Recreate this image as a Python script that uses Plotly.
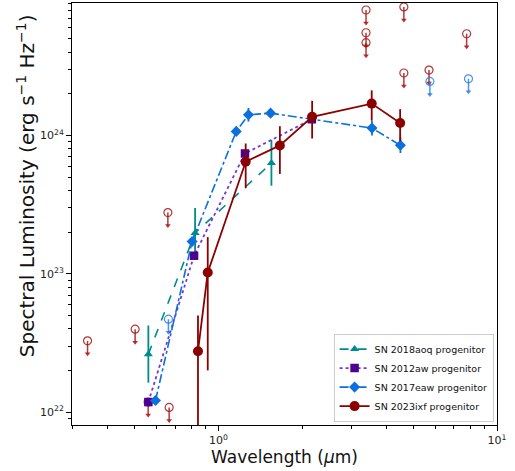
import numpy as np
import plotly.graph_objects as go

# ---- progenitor SED measurements (wavelength in micron, L_nu in erg/s/Hz) ----
aoq_wave = [0.560, 0.824, 1.549]
aoq_lum = [2.62e22, 1.97e23, 6.31e23]
aoq_err_hi = [1.60e22, 1.02e23, 2.99e23]
aoq_err_lo = [0.99e22, 0.67e23, 1.98e23]

aw_wave = [0.560, 0.817, 1.245, 2.164]
aw_lum = [1.18e22, 1.35e23, 7.41e23, 1.31e24]

eaw_wave = [0.594, 0.804, 1.158, 1.281, 1.538, 3.557, 4.50]
eaw_lum = [1.21e22, 1.71e23, 1.07e24, 1.41e24, 1.45e24, 1.13e24, 8.49e23]
eaw_err_hi = [0, 0, 0, 0.17e24, 0, 0.15e24, 1.2e23]
eaw_err_lo = [0, 0, 0, 0.15e24, 0, 0.13e24, 1.02e23]

ixf_wave = [0.844, 0.915, 1.252, 1.661, 2.169, 3.549, 4.49]
ixf_lum = [2.75e22, 1.02e23, 6.45e23, 8.47e23, 1.365e24, 1.70e24, 1.23e24]
ixf_err = [2.24e22, 0.82e23, 2.3e23, 3.2e23, 4.15e23, 4.2e23, 3.2e23]

# upper limits
ixf_lim_wave = [0.3387, 0.502, 0.559, 0.658, 0.665, 3.386, 3.386, 3.386, 4.63, 4.63, 5.70, 7.78]
ixf_lim_lum = [3.27e22, 3.97e22, 1.18e22, 2.77e23, 1.08e22, 8.08e24, 5.53e24, 4.69e24,
               8.5e24, 2.83e24, 2.97e24, 5.44e24]
eaw_lim_wave = [0.661, 5.74, 7.90]
eaw_lim_lum = [4.69e22, 2.46e24, 2.57e24]

x_ticks = [1, 10]
x_tick_text = ["10<sup>0</sup>", "10<sup>1</sup>"]
y_ticks = [1e22, 1e23, 1e24]
y_tick_text = ["10<sup>22</sup>", "10<sup>23</sup>", "10<sup>24</sup>"]

TEAL = "#008b8b"
PURPLE_M = "#4b0092"
PURPLE_L = "#7237d4"
BLUE = "#0b6fde"
RED = "#8b0000"
RED_LIM = "rgba(165,20,20,0.85)"
BLUE_LIM = "rgba(30,120,230,0.8)"

ARROW = 10 ** (-0.094)  # arrow length for upper limits (fixed fraction in log space)

fig = go.Figure()


def add_limits(wave, lum, color):
    lum = np.asarray(lum, dtype=float)
    tip = lum * ARROW
    fig.add_trace(go.Scatter(
        x=wave, y=lum, mode="markers", showlegend=False, hoverinfo="skip",
        marker=dict(symbol="circle-open", size=8, color=color, line=dict(width=1.2, color=color)),
        error_y=dict(type="data", symmetric=False, array=np.zeros_like(lum),
                     arrayminus=lum - tip, color=color, thickness=1.5, width=0),
    ))
    fig.add_trace(go.Scatter(
        x=wave, y=tip, mode="markers", showlegend=False, hoverinfo="skip",
        marker=dict(symbol="triangle-down", size=5, color=color, line=dict(width=0)),
    ))


add_limits(ixf_lim_wave, ixf_lim_lum, RED_LIM)
add_limits(eaw_lim_wave, eaw_lim_lum, BLUE_LIM)

fig.add_trace(go.Scatter(
    x=aoq_wave, y=aoq_lum, mode="lines+markers", name="SN 2018aoq progenitor",
    line=dict(color=TEAL, width=1.6, dash="dash"),
    marker=dict(symbol="triangle-up", size=8, color=TEAL),
    error_y=dict(type="data", symmetric=False, array=aoq_err_hi, arrayminus=aoq_err_lo,
                 color=TEAL, thickness=1.8, width=0),
))
fig.add_trace(go.Scatter(
    x=aw_wave, y=aw_lum, mode="lines+markers", name="SN 2012aw progenitor",
    line=dict(color=PURPLE_L, width=1.8, dash="dot"),
    marker=dict(symbol="square", size=8.5, color=PURPLE_M),
))
fig.add_trace(go.Scatter(
    x=eaw_wave, y=eaw_lum, mode="lines+markers", name="SN 2017eaw progenitor",
    line=dict(color=BLUE, width=1.6, dash="dashdot"),
    marker=dict(symbol="diamond", size=8.5, color=BLUE),
    error_y=dict(type="data", symmetric=False, array=eaw_err_hi, arrayminus=eaw_err_lo,
                 color=BLUE, thickness=1.8, width=0),
))
fig.add_trace(go.Scatter(
    x=ixf_wave, y=ixf_lum, mode="lines+markers", name="SN 2023ixf progenitor",
    line=dict(color=RED, width=1.8),
    marker=dict(symbol="circle", size=10, color=RED),
    error_y=dict(type="data", array=ixf_err, color=RED, thickness=1.8, width=0),
))

minor_x = [v * 10.0 ** d for d in (-1, 0) for v in range(2, 10)]
minor_y = [v * 10.0 ** d for d in (21, 22, 23, 24) for v in range(2, 10)]

axis_common = dict(
    showgrid=False, zeroline=False, showline=True, linecolor="black", linewidth=1,
    mirror=True, ticks="outside", ticklen=5, tickwidth=1, tickcolor="black",
    tickfont=dict(family="DejaVu Sans", size=11, color="#222"),
)

fig.update_xaxes(
    type="log", range=[-0.526, 1.0], tickmode="array", tickvals=x_ticks, ticktext=x_tick_text,
    title=dict(text="Wavelength (<i>μ</i>m)", font=dict(family="DejaVu Sans", size=17, color="#111"),
               standoff=2),
    minor=dict(tickmode="array", tickvals=minor_x, ticks="outside", ticklen=3, tickwidth=0.8,
               tickcolor="black", showgrid=False),
    **axis_common,
)
fig.update_yaxes(
    type="log", range=[21.906, 24.958], tickmode="array", tickvals=y_ticks, ticktext=y_tick_text,
    minor=dict(tickmode="array", tickvals=minor_y, ticks="outside", ticklen=3, tickwidth=0.8,
               tickcolor="black", showgrid=False),
    **axis_common,
)

# vertical axis label
fig.add_annotation(
    text="Spectral Luminosity (erg s<sup>−1</sup> Hz<sup>−1</sup>)",
    xref="paper", yref="paper", x=-0.108, y=0.566, textangle=-90,
    xanchor="center", yanchor="middle", showarrow=False,
    font=dict(family="DejaVu Sans", size=20, color="#111"),
)

fig.update_layout(
    width=515, height=471,
    margin=dict(l=72, r=18, t=3, b=46),
    paper_bgcolor="white", plot_bgcolor="white",
    font=dict(family="DejaVu Sans", color="#111"),
    legend=dict(
        x=0.992, y=0.008, xanchor="right", yanchor="bottom",
        bgcolor="rgba(255,255,255,0.9)", bordercolor="#cccccc", borderwidth=1,
        font=dict(family="DejaVu Sans", size=9.5, color="#111"), itemwidth=30,
        tracegroupgap=0,
    ),
)

fig.write_html("out.html")
